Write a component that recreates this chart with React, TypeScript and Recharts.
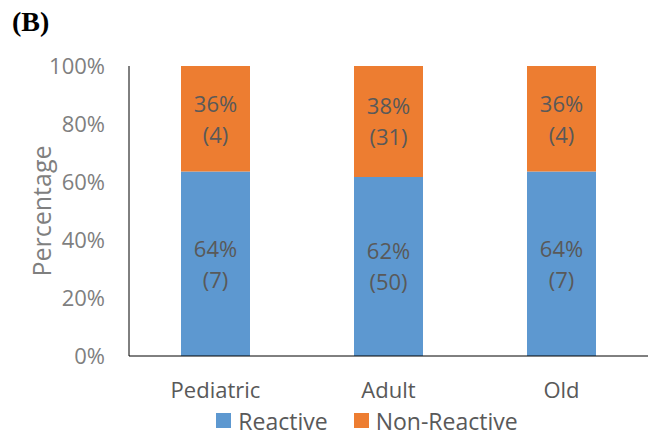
import React from "react";
import {
  BarChart,
  Bar,
  XAxis,
  YAxis,
  Legend,
  LabelList,
  Label,
} from "recharts";

const groups = ["Pediatric", "Adult", "Old"];
const reactiveCounts = [7, 50, 7];
const nonReactiveCounts = [4, 31, 4];
const percentTicks = [0, 0.2, 0.4, 0.6, 0.8, 1];

const BLUE = "#5D98D0";
const ORANGE = "#ED7D31";
const FONT = "'Open Sans', sans-serif";

const data = groups.map((group, i) => ({
  group,
  reactive: reactiveCounts[i],
  nonReactive: nonReactiveCounts[i],
}));

function makeLabel(counts: number[]) {
  return (props: any) => {
    const { x, y, width, height, index } = props;
    const count = counts[index];
    const total = reactiveCounts[index] + nonReactiveCounts[index];
    const pct = Math.round((count / total) * 100);
    const cx = Number(x) + Number(width) / 2;
    const cy = Number(y) + Number(height) / 2;
    return (
      <text
        x={cx}
        y={cy}
        textAnchor="middle"
        fill="#595959"
        fontSize={22}
        fontFamily={FONT}
      >
        <tspan x={cx} dy={-7}>{`${pct}%`}</tspan>
        <tspan x={cx} dy={31}>{`(${count})`}</tspan>
      </text>
    );
  };
}

const LegendContent = () => (
  <div
    style={{
      display: "flex",
      justifyContent: "center",
      alignItems: "center",
      fontFamily: FONT,
      fontSize: 23,
      lineHeight: "26px",
      color: "#595959",
      height: 30,
      paddingBottom: 3,
      paddingLeft: 112,
      boxSizing: "border-box",
    }}
  >
    {[
      { name: "Reactive", color: BLUE },
      { name: "Non-Reactive", color: ORANGE },
    ].map((item) => (
      <span
        key={item.name}
        style={{ display: "flex", alignItems: "center", marginRight: 26 }}
      >
        <span
          style={{
            width: 15,
            height: 15,
            background: item.color,
            display: "inline-block",
            marginRight: 7,
          }}
        />
        {item.name}
      </span>
    ))}
  </div>
);

export default function App() {
  return (
    <div
      style={{
        position: "absolute",
        left: 0,
        top: 0,
        width: 648,
        height: 437,
        background: "#fff",
      }}
    >
      <div
        style={{
          position: "absolute",
          left: 12,
          top: 6,
          fontFamily: "'Liberation Serif', serif",
          fontWeight: "bold",
          fontSize: 28,
        }}
      >
        (B)
      </div>
      <BarChart
        width={648}
        height={437}
        data={data}
        stackOffset="expand"
        barSize={69}
        margin={{ top: 66, right: 0, bottom: 0, left: 0 }}
      >
        <XAxis
          dataKey="group"
          axisLine={{ stroke: "#000", strokeWidth: 1 }}
          tickLine={false}
          tickMargin={20}
          height={51}
          tick={{ fill: "#595959", fontSize: 22, fontFamily: FONT }}
        />
        <YAxis
          width={129}
          domain={[0, 1]}
          ticks={percentTicks}
          tickFormatter={(v: number) => `${Math.round(v * 100)}%`}
          axisLine={{ stroke: "#000", strokeWidth: 1 }}
          tickLine={false}
          tickMargin={18}
          tick={{ fill: "#7F7F7F", fontSize: 22, fontFamily: FONT }}
        >
          <Label
            content={({ viewBox }: any) => {
              const cy = viewBox.y + viewBox.height / 2;
              return (
                <text
                  x={41}
                  y={cy}
                  transform={`rotate(-90, 41, ${cy})`}
                  textAnchor="middle"
                  dominantBaseline="central"
                  fill="#7F7F7F"
                  fontSize={25}
                  fontFamily={FONT}
                >
                  Percentage
                </text>
              );
            }}
          />
        </YAxis>
        <Legend
          verticalAlign="bottom"
          height={30}
          content={<LegendContent />}
        />
        <Bar
          dataKey="reactive"
          stackId="a"
          fill={BLUE}
          isAnimationActive={false}
        >
          <LabelList dataKey="reactive" content={makeLabel(reactiveCounts)} />
        </Bar>
        <Bar
          dataKey="nonReactive"
          stackId="a"
          fill={ORANGE}
          isAnimationActive={false}
        >
          <LabelList
            dataKey="nonReactive"
            content={makeLabel(nonReactiveCounts)}
          />
        </Bar>
      </BarChart>
    </div>
  );
}
